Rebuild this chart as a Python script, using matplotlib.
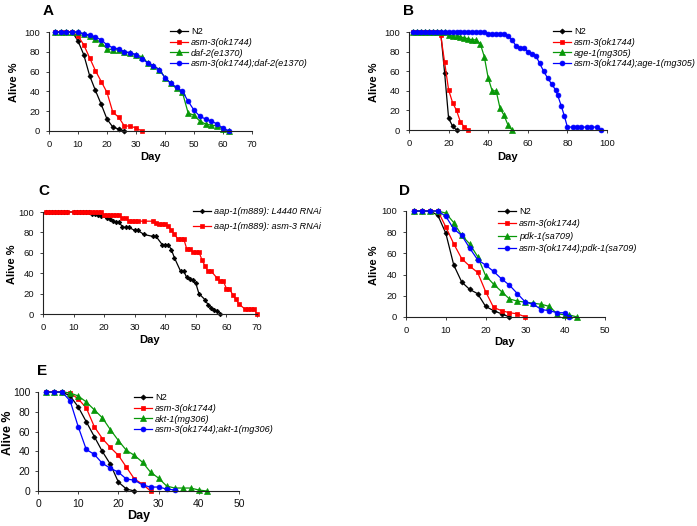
import matplotlib
matplotlib.use('Agg')
import matplotlib.pyplot as plt

plt.rcParams['font.family'] = ['Liberation Sans', 'DejaVu Sans']

W, H = 697, 526

# ---- Panel A ----
a_days = [2, 4, 6, 8, 10, 12, 14, 16, 18, 20, 22, 24, 26, 28, 30, 32, 34, 36, 38, 40,
          42, 44, 46, 48, 50, 52, 54, 56, 58, 60, 62]
a_n2 = [100, 100, 100, 100, 91, 77, 56, 41, 27, 12, 4, 2, 0]
a_asm3 = [100, 100, 100, 100, 96, 87, 74, 61, 50, 39, 19, 14, 5, 5, 3, 0]
a_daf2 = [100, 100, 100, 100, 100, 98, 96, 93, 89, 83, 82, 82, 80, 79, 77, 75, 69, 66,
          62, 54, 48, 43, 39, 18, 16, 10, 7, 6, 5, 2, 0]
a_double = [100, 100, 100, 100, 100, 98, 97, 95, 92, 87, 84, 83, 80, 79, 77, 73, 69, 66,
            62, 54, 48, 44, 40, 30, 21, 15, 12, 10, 7, 3, 0]
a_labels = ['N2', 'asm-3(ok1744)', 'daf-2(e1370)', 'asm-3(ok1744);daf-2(e1370)']

# ---- Panel B ----
b_days_n2 = [2, 4, 6, 8, 10, 12, 14, 16, 18, 20, 22, 24]
b_n2 = [100, 100, 100, 100, 100, 100, 100, 100, 58, 12, 4, 0]
b_days_asm3 = [2, 4, 6, 8, 10, 12, 14, 16, 18, 20, 22, 24, 26, 28, 30]
b_asm3 = [100, 100, 100, 100, 100, 100, 100, 97, 69, 41, 28, 20, 8, 3, 0]
b_days_age1 = [2, 4, 6, 8, 10, 12, 14, 16, 18, 20, 22, 24, 26, 28, 30, 32, 34, 36, 38,
               40, 42, 44, 46, 48, 50, 52]
b_age1 = [100, 100, 100, 100, 100, 100, 100, 100, 100, 97, 96, 96, 95, 94, 93, 92, 92,
          88, 75, 53, 40, 40, 22, 15, 5, 0]
b_days_double = [2, 4, 6, 8, 10, 12, 14, 16, 18, 20, 22, 24, 26, 28, 30, 32, 34, 36, 38,
                 40, 42, 44, 46, 48, 50, 52, 54, 56, 58, 60, 62, 64, 66, 68, 70, 72, 74,
                 75, 77, 78.5, 80, 83, 85, 87, 90, 92, 95, 97]
b_double = [100] * 19 + [98, 98, 98, 98, 98, 96, 92, 86, 84, 84, 80, 78, 76, 68, 60, 53,
                         47, 41, 36, 24, 14, 3, 3, 3, 3, 3, 3, 3, 0]
b_labels = ['N2', 'asm-3(ok1744)', 'age-1(mg305)', 'asm-3(ok1744);age-1(mg305)']

# ---- Panel C ----
c_days_l4440 = [1, 2, 3, 4, 5, 6, 7, 8, 10, 11, 12, 13, 14, 15, 16, 17, 18, 19, 21, 22,
                23, 24, 25, 26, 27, 28, 30, 31, 33, 36, 37, 39, 40, 41, 42, 43, 45, 46,
                47, 48, 49, 50, 51, 53, 54, 55, 56, 57, 58]
c_l4440 = [100, 100, 100, 100, 100, 100, 100, 100, 100, 100, 100, 100, 100, 100, 98, 98,
           97, 96, 94, 93, 91, 90, 90, 85, 85, 85, 82, 82, 78, 76, 76, 68, 68, 68, 63,
           55, 42, 42, 36, 34, 33, 30, 20, 14, 9, 6, 4, 3, 0]
c_days_asm3 = [1, 2, 3, 4, 5, 6, 7, 8, 10, 11, 12, 13, 14, 15, 16, 17, 18, 19, 20, 21,
               22, 23, 24, 25, 26, 27, 28, 29, 30, 31, 33, 36, 37, 38, 39, 40, 41, 42,
               43, 44, 45, 46, 47, 48, 49, 50, 51, 52, 53, 54, 55, 57, 58, 59, 60, 61,
               62, 63, 64, 66, 67, 68, 69, 70]
c_asm3 = [100, 100, 100, 100, 100, 100, 100, 100, 100, 100, 100, 100, 100, 100, 100, 100,
          100, 100, 97, 97, 97, 97, 97, 97, 94, 94, 91, 91, 91, 91, 91, 91, 89, 88, 88,
          88, 86, 82, 78, 74, 74, 74, 64, 64, 61, 61, 61, 53, 47, 42, 42, 35, 32, 32, 25,
          25, 19, 15, 10, 5, 5, 5, 5, 0]
c_labels = ['aap-1(m889): L4440 RNAi', 'aap-1(m889): asm-3 RNAi']

# ---- Panel D ----
d_days = [2, 4, 6, 8, 10, 12, 14, 16, 18, 20, 22, 24, 26, 28, 30, 32, 34, 36, 38, 40,
          41, 43]
d_n2 = [100, 100, 100, 96, 79, 49, 33, 26, 22, 10, 6, 3, 0]
d_asm3 = [100, 100, 100, 100, 85, 69, 55, 48, 42, 24, 9, 6, 4, 3, 0]
d_pdk1 = [100, 100, 100, 100, 98, 89, 77, 69, 57, 39, 31, 24, 17, 15, 14, 13, 12, 10, 3,
          2, 2, 0]
d_double = [100, 100, 100, 100, 95, 83, 77, 65, 54, 49, 43, 36, 30, 22, 14, 12, 7, 6, 4,
            4, 0]
d_labels = ['N2', 'asm-3(ok1744)', 'pdk-1(sa709)', 'asm-3(ok1744);pdk-1(sa709)']

# ---- Panel E ----
e_days = [2, 4, 6, 8, 10, 12, 14, 16, 18, 20, 22, 24, 26, 28, 30, 32, 34, 36, 38, 40, 42]
e_n2 = [100, 100, 100, 96, 85, 70, 55, 40, 27, 9, 2, 0]
e_asm3 = [100, 100, 100, 99, 93, 84, 65, 53, 44, 36, 24, 12, 7, 0]
e_akt1 = [100, 100, 100, 99, 96, 90, 82, 74, 62, 51, 41, 36, 29, 19, 13, 5, 3, 3, 3, 1, 0]
e_double = [100, 100, 100, 91, 65, 42, 37, 28, 23, 19, 12, 11, 6, 4, 4, 2, 1]
e_labels = ['N2', 'asm-3(ok1744)', 'akt-1(mg306)', 'asm-3(ok1744);akt-1(mg306)']

BLACK, RED, GREEN, BLUE = '#000000', '#ff0000', '#089808', '#0000ff'
styles = [(BLACK, 'D', 2.6), (RED, 's', 3.3), (GREEN, '^', 3.7), (BLUE, 'o', 3.5)]

fig = plt.figure(figsize=(W / 100, H / 100), dpi=100)


def px_axes(l, r, t, b):
    return fig.add_axes([l / W, 1 - b / H, (r - l) / W, (b - t) / H])


def panel(box, xmax, xstep, series, labels, leg_xy, spacing, letter, letter_xy,
          ylab_xy, xlab_xy, tick_fs=6.8, lab_fs=8, tick_pad=4.5, msize=1.0):
    ax = px_axes(*box)
    for (x, y), (c, m, s) in zip(series, styles):
        ax.plot(x, y, color=c, marker=m, markersize=s * msize, linewidth=0.9,
                markeredgewidth=0.5, clip_on=False)
    ax.set_xlim(0, xmax)
    ax.set_ylim(0, 100)
    ax.set_xticks(range(0, xmax + 1, xstep))
    ax.set_yticks(range(0, 101, 20))
    for s in ['top', 'right']:
        ax.spines[s].set_visible(False)
    for s in ['left', 'bottom']:
        ax.spines[s].set_linewidth(0.8)
        ax.spines[s].set_color('#222222')
    ax.tick_params(labelsize=tick_fs, length=2, width=0.6, direction='out',
                   pad=tick_pad, colors='#222222', labelcolor='#111111')
    leg = ax.legend(labels, loc='upper left',
                    bbox_to_anchor=(leg_xy[0] / W, 1 - leg_xy[1] / H),
                    bbox_transform=fig.transFigure, frameon=False, fontsize=6.6,
                    borderpad=0, borderaxespad=0, handlelength=2.0,
                    handletextpad=0.3, labelspacing=spacing, numpoints=1)
    for t in leg.get_texts():
        if t.get_text() != 'N2':
            t.set_fontstyle('italic')
    fig.text(letter_xy[0] / W, 1 - letter_xy[1] / H, letter, fontsize=11,
             fontweight='bold', ha='left', va='baseline')
    fig.text(ylab_xy[0] / W, 1 - ylab_xy[1] / H, 'Alive %', fontsize=lab_fs,
             fontweight='bold', rotation=90, ha='center', va='center')
    fig.text(xlab_xy[0] / W, 1 - xlab_xy[1] / H, 'Day', fontsize=lab_fs,
             fontweight='bold', ha='center', va='center')
    return ax


panel((49, 252, 32, 131), 70, 10,
      [(a_days[:len(a_n2)], a_n2), (a_days[:len(a_asm3)], a_asm3),
       (a_days, a_daf2), (a_days, a_double)],
      a_labels, (170, 27), 0.2, 'A', (43, 15), (14, 82), (151, 157))

panel((409, 607, 32, 130), 100, 20,
      [(b_days_n2, b_n2), (b_days_asm3, b_asm3), (b_days_age1, b_age1),
       (b_days_double, b_double)],
      b_labels, (553, 27), 0.2, 'B', (403, 15), (374, 82), (508, 157))

panel((43, 257, 212, 314), 70, 10,
      [(c_days_l4440, c_l4440), (c_days_asm3, c_asm3)],
      c_labels, (193, 207), 0.65, 'C', (38, 195), (12, 264), (150, 340), msize=0.9)

panel((406, 605, 211, 317), 50, 10,
      [(d_days[:len(d_n2)], d_n2), (d_days[:len(d_asm3)], d_asm3),
       (d_days, d_pdk1), (d_days[:len(d_double)], d_double)],
      d_labels, (498, 207), 0.38, 'D', (399, 195), (374, 265), (505, 342))

panel((38, 239, 392, 491), 50, 10,
      [(e_days[:len(e_n2)], e_n2), (e_days[:len(e_asm3)], e_asm3),
       (e_days, e_akt1), (e_days[:len(e_double)], e_double)],
      e_labels, (134, 393), 0.2, 'E', (37, 375), (8, 433), (139, 516),
      tick_fs=7.5, lab_fs=9, tick_pad=3.5)

fig.savefig('out.png', dpi=100)
